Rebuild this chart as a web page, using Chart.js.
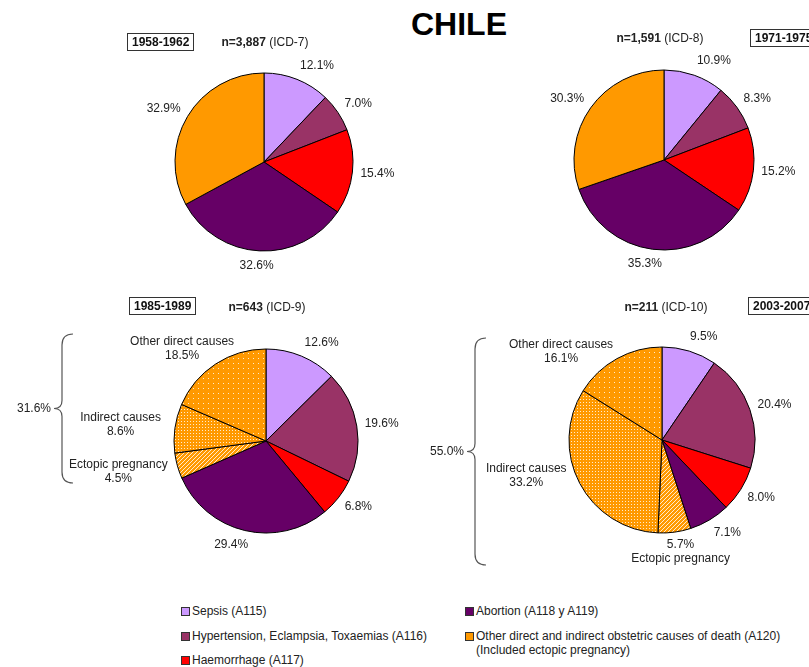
<!DOCTYPE html>
<html>
<head>
<meta charset="utf-8">
<script src="https://cdn.jsdelivr.net/npm/chart.js@4.4.0/dist/chart.umd.min.js"></script>
<style>
  body { margin: 0; width: 809px; height: 667px; overflow: hidden; background: #fff; position: relative;
         font-family: "Liberation Sans", Arial, sans-serif; color: #222; }
  canvas { position: absolute; }
  .t { position: absolute; font-size: 12px; line-height: 14px; white-space: nowrap; }
  .mid { transform: translateX(-50%); }
  .box { border: 1px solid #333; font-weight: bold; padding: 1px 4px; color: #111; }
  .sq { position: absolute; width: 7px; height: 7px; border: 1px solid #333; }
  #title { position: absolute; left: 459px; top: 8px; transform: translateX(-50%); font-size: 32px; line-height: 32px; font-weight: bold; color: #000; }
</style>
</head>
<body>
<div id="title">CHILE</div>
<canvas id="c1958" width="520" height="300" style="left:4px;top:12px"></canvas>
<canvas id="c1971" width="520" height="300" style="left:404px;top:10px"></canvas>
<canvas id="c1985" width="520" height="300" style="left:6px;top:291px"></canvas>
<canvas id="c2003" width="520" height="300" style="left:402px;top:290px"></canvas>
<div id="heads"></div>
<div id="legend"></div>
<script>
// causes of maternal death, in slice order (clockwise from 12 o'clock)
var causes = ['Sepsis (A115)', 'Hypertension, Eclampsia, Toxaemias (A116)', 'Haemorrhage (A117)',
              'Abortion (A118 y A119)', 'Other direct and indirect obstetric causes of death (A120)'];
var causeNote = ['', '', '', '', '(Included ectopic pregnancy)'];
var causeColors = ['#CC99FF', '#993366', '#FF0000', '#660066', '#FF9900'];

var periods = ['1958-1962', '1971-1975', '1985-1989', '2003-2007'];
var deaths = ['3,887', '1,591', '643', '211'];
var icd = ['ICD-7', 'ICD-8', 'ICD-9', 'ICD-10'];

// percentages per period
var share1958 = [12.1, 7.0, 15.4, 32.6, 32.9];
var share1971 = [10.9, 8.3, 15.2, 35.3, 30.3];
// from ICD-9 on, A120 is split into ectopic / indirect / other direct
var share1985 = [12.6, 19.6, 6.8, 29.4, 4.5, 8.6, 18.5];
var share2003 = [9.5, 20.4, 8.0, 7.1, 5.7, 33.2, 16.1];
var otherParts = ['Ectopic pregnancy', 'Indirect causes', 'Other direct causes'];

var FONT = '12px "Liberation Sans", Arial, sans-serif';

function tile(size, draw) {
  var c = document.createElement('canvas');
  c.width = size; c.height = size;
  var g = c.getContext('2d');
  g.fillStyle = '#FF9900';
  g.fillRect(0, 0, size, size);
  g.fillStyle = 'rgba(255,255,255,0.8)';
  draw(g);
  return g.createPattern(c, 'repeat');
}
var ectopicFill = tile(4, function (g) {
  for (var k = 0; k < 4; k++) g.fillRect(k, 3 - k, 1, 1);
});
var indirectFill = tile(3, function (g) { g.fillRect(1, 1, 1, 1); });
var otherDirectFill = tile(5, function (g) { g.fillRect(2, 2, 1, 1); });

var splitColors = causeColors.slice(0, 4).concat([ectopicFill, indirectFill, otherDirectFill]);

// percentage (and name) labels outside each slice, plus the brace for the A120 group
var outsideLabels = {
  id: 'outsideLabels',
  afterDatasetsDraw: function (chart, args, opts) {
    var ctx = chart.ctx;
    var meta = chart.getDatasetMeta(0);
    var vals = chart.data.datasets[0].data;
    var names = opts.names || [];
    var shifts = opts.shifts || [];
    var cx = 0, cy = 0;
    ctx.save();
    ctx.font = FONT;
    ctx.fillStyle = '#222';
    ctx.textAlign = 'center';
    ctx.textBaseline = 'middle';
    meta.data.forEach(function (arc, i) {
      var p = arc.getProps(['x', 'y', 'startAngle', 'endAngle', 'outerRadius'], true);
      cx = p.x; cy = p.y;
      var a = (p.startAngle + p.endAngle) / 2;
      var dx = Math.cos(a), dy = Math.sin(a);
      var pct = vals[i].toFixed(1) + '%';
      var lines = [pct];
      if (names[i]) lines = (opts.valueFirst === i) ? [pct, names[i]] : [names[i], pct];
      var w = 0;
      lines.forEach(function (s) { w = Math.max(w, ctx.measureText(s).width); });
      var h = lines.length * 14;
      var d = p.outerRadius + 8;
      var sh = shifts[i] || [0, 0];
      var x = p.x + d * dx + (w / 2) * Math.sign(dx) * Math.min(1, 3 * Math.abs(dx)) + sh[0];
      var y = p.y + d * dy + (h / 2) * dy + sh[1];
      lines.forEach(function (s, k) { ctx.fillText(s, x, y - h / 2 + 7 + k * 14); });
    });
    if (opts.brace) {
      var b = opts.brace;
      var x0 = cx + b.x, top = cy + b.top, bot = cy + b.bottom, m = (top + bot) / 2;
      ctx.strokeStyle = '#555';
      ctx.lineWidth = 1.2;
      ctx.beginPath();
      ctx.moveTo(x0 + 11, top);
      ctx.quadraticCurveTo(x0, top, x0, top + 11);
      ctx.lineTo(x0, m - 8);
      ctx.quadraticCurveTo(x0, m, x0 - 8, m);
      ctx.quadraticCurveTo(x0, m, x0, m + 8);
      ctx.lineTo(x0, bot - 11);
      ctx.quadraticCurveTo(x0, bot, x0 + 11, bot);
      ctx.stroke();
      var group = 0;
      for (var j = 4; j < vals.length; j++) group += vals[j];
      ctx.textAlign = 'right';
      ctx.fillText(group.toFixed(1) + '%', x0 - 11, m);
    }
    ctx.restore();
  }
};

function makePie(id, values, colors, radius, labelOpts) {
  return new Chart(document.getElementById(id), {
    type: 'pie',
    data: {
      labels: values.map(function (v, i) { return i < 4 ? causes[i] : otherParts[i - 4]; }),
      datasets: [{
        data: values,
        backgroundColor: colors,
        borderColor: '#000',
        borderWidth: 1,
        radius: radius
      }]
    },
    options: {
      responsive: false,
      animation: false,
      events: [],
      plugins: {
        legend: { display: false },
        tooltip: { enabled: false },
        outsideLabels: labelOpts
      }
    },
    plugins: [outsideLabels]
  });
}

makePie('c1958', share1958, causeColors, 89, {});
makePie('c1971', share1971, causeColors, 90, {});
makePie('c1985', share1985, splitColors, 92, {
  names: [null, null, null, null].concat(otherParts),
  shifts: [null, null, null, null, [-2, 0], [-6, -1], [23, 3]],
  brace: { x: -204, top: -107, bottom: 42 }
});
makePie('c2003', share2003, splitColors, 93, {
  names: [null, null, null, null].concat(otherParts),
  valueFirst: 4,
  shifts: [null, null, null, null, [-15, -2], [-6, -18], [0, 12]],
  brace: { x: -187, top: -102, bottom: 125 }
});

// period boxes and sample sizes above each pie
var heads = document.getElementById('heads');
var boxPos = [[127, 33], [750, 29], [129, 297], [748, 297]];
var nPos = [[265, 35], [660, 31], [267, 300], [666, 300]];
periods.forEach(function (p, i) {
  heads.insertAdjacentHTML('beforeend',
    '<div class="t box" style="left:' + boxPos[i][0] + 'px;top:' + boxPos[i][1] + 'px">' + p + '</div>' +
    '<div class="t mid" style="left:' + nPos[i][0] + 'px;top:' + nPos[i][1] + 'px"><b>n=' + deaths[i] + '</b> (' + icd[i] + ')</div>');
});

// shared legend, two columns
var legend = document.getElementById('legend');
var legPos = [[181, 604], [181, 629], [181, 653], [465, 604], [465, 629]];
causes.forEach(function (c, i) {
  var x = legPos[i][0], y = legPos[i][1];
  var html = '<div class="sq" style="left:' + x + 'px;top:' + (y + 3) + 'px;background:' + causeColors[i] + '"></div>' +
             '<div class="t" style="left:' + (x + 11) + 'px;top:' + y + 'px">' + c +
             (causeNote[i] ? '<br>' + causeNote[i] : '') + '</div>';
  legend.insertAdjacentHTML('beforeend', html);
});
</script>
</body>
</html>
